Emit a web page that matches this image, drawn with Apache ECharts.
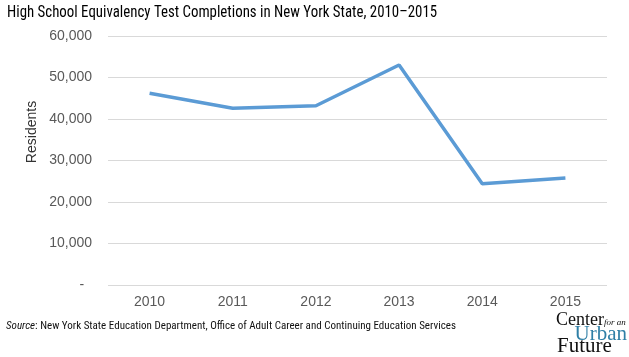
<!DOCTYPE html>
<html><head><meta charset="utf-8">
<script src="https://cdn.jsdelivr.net/npm/echarts@6/dist/echarts.min.js"></script>
<style>html,body{margin:0;padding:0;background:#fff}#c{width:629px;height:357px}</style>
</head><body><div id="c"></div>
<script>
const years = ['2010','2011','2012','2013','2014','2015'];
const completions = [46200, 42600, 43200, 53000, 24400, 25800];
const yTicks = [0, 10000, 20000, 30000, 40000, 50000, 60000];

const chart = echarts.init(document.getElementById('c'));
const narrow = "'Liberation Sans Narrow','Arial Narrow','Roboto Condensed',sans-serif";
const serif = "'Liberation Serif','Times New Roman',serif";
chart.setOption({
  animation: false,
  backgroundColor: '#fff',
  grid: {left: 108, right: 22, top: 36, bottom: 72},
  xAxis: {
    type: 'category', data: years, boundaryGap: true,
    axisLine: {show: false}, axisTick: {show: false},
    axisLabel: {color: '#595959', fontSize: 14, fontFamily: 'Liberation Sans, Arial, sans-serif', margin: 10}
  },
  yAxis: {
    type: 'value', min: yTicks[0], max: yTicks[yTicks.length-1], interval: 10000,
    axisLine: {show: false}, axisTick: {show: false},
    splitLine: {lineStyle: {color: '#d9d9d9', width: 1}},
    axisLabel: {
      color: '#595959', fontSize: 14, fontFamily: 'Liberation Sans, Arial, sans-serif', margin: 16,
      formatter: v => v === 0 ? '-  ' : v.toLocaleString('en-US')
    }
  },
  series: [{
    type: 'line', data: completions, showSymbol: false, symbol: 'none',
    lineStyle: {color: '#5b9bd5', width: 3.5}
  }],
  graphic: [
    {type: 'text', x: 7, y: 13, scaleX: 0.93,
      style: {text: 'High School Equivalency Test Completions in New York State, 2010\u20132015',
        font: "16px " + narrow, fill: '#000', verticalAlign: 'middle'}},
    {type: 'text', x: 32, y: 132, rotation: Math.PI/2,
      style: {text: 'Residents', font: "14px 'Liberation Sans', Arial, sans-serif", fill: '#333', align: 'center', verticalAlign: 'middle'}},
    {type: 'text', x: 6, y: 326,
      style: {text: '{i|Source}: New York State Education Department, Office of Adult Career and Continuing Education Services',
        font: "11px " + narrow, fill: '#111', verticalAlign: 'middle',
        rich: {i: {fontStyle: 'italic', fontFamily: narrow, fontSize: 11, fill: '#111'}}}},
    {type: 'text', x: 556, y: 320,
      style: {text: 'Center', font: "18px " + serif, fill: '#111', verticalAlign: 'middle'}},
    {type: 'text', x: 604, y: 323,
      style: {text: 'for an', font: "italic 9px " + serif, fill: '#111', verticalAlign: 'middle'}},
    {type: 'text', x: 627, y: 334,
      style: {text: 'Urban', font: "21px " + serif, fill: '#2f7fa6', align: 'right', verticalAlign: 'middle'}},
    {type: 'text', x: 557, y: 346,
      style: {text: 'Future', font: "21px " + serif, fill: '#111', verticalAlign: 'middle'}}
  ]
});
</script></body></html>
